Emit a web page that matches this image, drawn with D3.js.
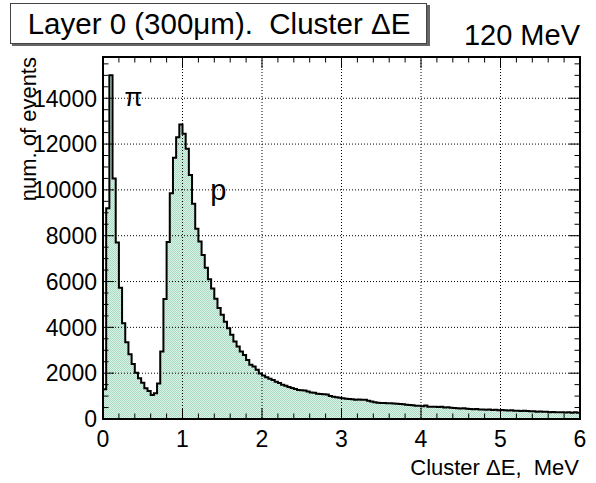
<!DOCTYPE html>
<html>
<head>
<meta charset="utf-8">
<script src="https://cdn.jsdelivr.net/npm/d3@7"></script>
<style>
body { margin: 0; background: #fff; }
text { font-family: "Liberation Sans", Arial, Helvetica, sans-serif; white-space: pre; }
</style>
</head>
<body>
<div id="chart-area"></div>
<script>
// *********************
// Data
// *********************

// histogram range and bin width (MeV)
const histRange = [0, 6];
const binWidth = 0.04;

// counts per bin
const counts = [
	1300, 9200, 15000, 10500, 7700, 5730, 4180, 3350, 2825, 2400,
	2020, 1775, 1585, 1340, 1220, 1050, 1120, 1550, 2950, 5240,
	7720, 9850, 11400, 12300, 12850, 12450, 11800, 10650, 9400, 8300,
	7750, 7160, 6600, 6100, 5700, 5250, 4850, 4550, 4250, 3960,
	3680, 3380, 3160, 2950, 2790, 2580, 2370, 2290, 2150, 1990,
	1900, 1820, 1760, 1700, 1630, 1570, 1500, 1450, 1400, 1350,
	1310, 1270, 1260, 1240, 1200, 1160, 1150, 1100, 1090, 1080,
	1070, 1000, 975, 950, 930, 905, 880, 870, 860, 845,
	850, 840, 835, 800, 760, 730, 710, 700, 700, 690,
	690, 680, 670, 660, 640, 620, 610, 600, 580, 580,
	560, 590, 540, 530, 540, 520, 530, 500, 510, 490,
	480, 470, 460, 470, 450, 440, 430, 440, 420, 410,
	400, 410, 390, 400, 380, 390, 380, 370, 380, 360,
	365, 350, 355, 345, 340, 335, 320, 325, 315, 320,
	300, 310, 295, 300, 290, 280, 290, 270, 300, 275
];

const xTickValues = [0, 1, 2, 3, 4, 5, 6];
const yTickValues = [0, 2000, 4000, 6000, 8000, 10000, 12000, 14000];
const yMax = 15800;

const titleText = "Layer 0 (300\u03bcm).  Cluster \u0394E";
const energyText = "120 MeV";
const xTitle = "Cluster \u0394E,  MeV";
const yTitle = "num. of events";

// *********************
// Basic setup SVG
// *********************

const width = 596;
const height = 483;
const margin = {left: 103, right: 16, top: 57, bottom: 64};
const plotW = width - margin.left - margin.right;
const plotH = height - margin.top - margin.bottom;

const svg = d3.select("#chart-area")
	.append("svg")
	.attr("width", width)
	.attr("height", height);

svg.append("rect")
	.attr("width", width)
	.attr("height", height)
	.attr("fill", "white");

// dotted green fill, like the ROOT fill style
const defs = svg.append("defs");
const pat = defs.append("pattern")
	.attr("id", "fillpat")
	.attr("patternUnits", "userSpaceOnUse")
	.attr("width", 2)
	.attr("height", 2);
pat.append("rect").attr("width", 2).attr("height", 2).attr("fill", "#dcf1e7");
pat.append("rect").attr("width", 1).attr("height", 1).attr("fill", "#a9dbc3");
pat.append("rect").attr("x", 1).attr("y", 1).attr("width", 1).attr("height", 1).attr("fill", "#a9dbc3");

const g = svg.append("g")
	.attr("transform", "translate(" + margin.left + "," + margin.top + ")");

// *********************
// Scales
// *********************

const x = d3.scaleLinear()
	.domain(histRange)
	.range([0, plotW]);

const y = d3.scaleLinear()
	.domain([0, yMax])
	.range([plotH, 0]);

// *********************
// Histogram
// *********************

const edges = counts.map((c, i) => ({e: histRange[0] + i * binWidth, v: c}));
edges.push({e: histRange[1], v: counts[counts.length - 1]});

const area = d3.area()
	.curve(d3.curveStepAfter)
	.x(d => x(d.e))
	.y0(y(0))
	.y1(d => y(d.v));

g.append("path")
	.datum(edges)
	.attr("fill", "url(#fillpat)")
	.attr("d", area);

// grid
g.selectAll(".xgrid")
	.data(xTickValues.slice(1, -1))
	.enter().append("line")
	.attr("x1", d => x(d)).attr("x2", d => x(d))
	.attr("y1", 0).attr("y2", plotH)
	.attr("stroke", "black")
	.attr("stroke-dasharray", "1,2");

g.selectAll(".ygrid")
	.data(yTickValues.slice(1))
	.enter().append("line")
	.attr("x1", 0).attr("x2", plotW)
	.attr("y1", d => y(d)).attr("y2", d => y(d))
	.attr("stroke", "black")
	.attr("stroke-dasharray", "1,2");

const outline = [{e: histRange[0], v: 0}].concat(edges, [{e: histRange[1], v: 0}]);
const line = d3.line()
	.curve(d3.curveStepAfter)
	.x(d => x(d.e))
	.y(d => y(d.v));

g.append("path")
	.datum(outline)
	.attr("fill", "none")
	.attr("stroke", "black")
	.attr("stroke-width", 2)
	.attr("d", line);

// *********************
// Frame and ticks (ticks point inside, ROOT style)
// *********************

const majLen = 11, minLen = 5.5;
const xMinor = d3.range(0, 6.001, 0.2);
const yMinor = d3.range(0, yMax, 500);

xMinor.forEach(t => {
	const len = Math.abs(t - Math.round(t)) < 1e-6 ? majLen : minLen;
	g.append("line").attr("x1", x(t)).attr("x2", x(t)).attr("y1", plotH).attr("y2", plotH - len).attr("stroke", "black");
	g.append("line").attr("x1", x(t)).attr("x2", x(t)).attr("y1", 0).attr("y2", len).attr("stroke", "black");
});

yMinor.forEach(t => {
	const len = t % 2000 === 0 ? majLen : minLen;
	g.append("line").attr("x1", 0).attr("x2", len).attr("y1", y(t)).attr("y2", y(t)).attr("stroke", "black");
	g.append("line").attr("x1", plotW).attr("x2", plotW - len).attr("y1", y(t)).attr("y2", y(t)).attr("stroke", "black");
});

g.append("rect")
	.attr("width", plotW)
	.attr("height", plotH)
	.attr("fill", "none")
	.attr("stroke", "black")
	.attr("stroke-width", 2);

// tick labels
g.selectAll(".xlab")
	.data(xTickValues)
	.enter().append("text")
	.attr("x", d => x(d))
	.attr("y", plotH + 28)
	.attr("text-anchor", "middle")
	.attr("font-size", "23px")
	.text(d => d);

g.selectAll(".ylab")
	.data(yTickValues)
	.enter().append("text")
	.attr("x", -6)
	.attr("y", d => y(d))
	.attr("dy", "0.36em")
	.attr("text-anchor", "end")
	.attr("font-size", "23px")
	.text(d => d);

// axis titles
svg.append("text")
	.attr("x", 579)
	.attr("y", 475)
	.attr("text-anchor", "end")
	.attr("font-size", "22px")
	.text(xTitle);

svg.append("text")
	.attr("transform", "translate(36,57) rotate(-90)")
	.attr("text-anchor", "end")
	.attr("font-size", "22px")
	.text(yTitle);

// peak labels
g.append("text")
	.attr("x", x(0.27))
	.attr("y", 49)
	.attr("font-size", "26px")
	.text("\u03c0");

g.append("text")
	.attr("x", x(1.35))
	.attr("y", 143)
	.attr("font-size", "29px")
	.text("p");

// *********************
// Title box
// *********************

svg.append("rect")
	.attr("x", 12).attr("y", 5)
	.attr("width", 418).attr("height", 41)
	.attr("fill", "#666");

svg.append("rect")
	.attr("x", 10.5).attr("y", 3.5)
	.attr("width", 416).attr("height", 40)
	.attr("fill", "white")
	.attr("stroke", "#444");

svg.append("text")
	.attr("x", 219)
	.attr("y", 34)
	.attr("text-anchor", "middle")
	.attr("font-size", "29.5px")
	.text(titleText);

svg.append("text")
	.attr("x", 580)
	.attr("y", 45)
	.attr("text-anchor", "end")
	.attr("font-size", "29px")
	.text(energyText);
</script>
</body>
</html>
